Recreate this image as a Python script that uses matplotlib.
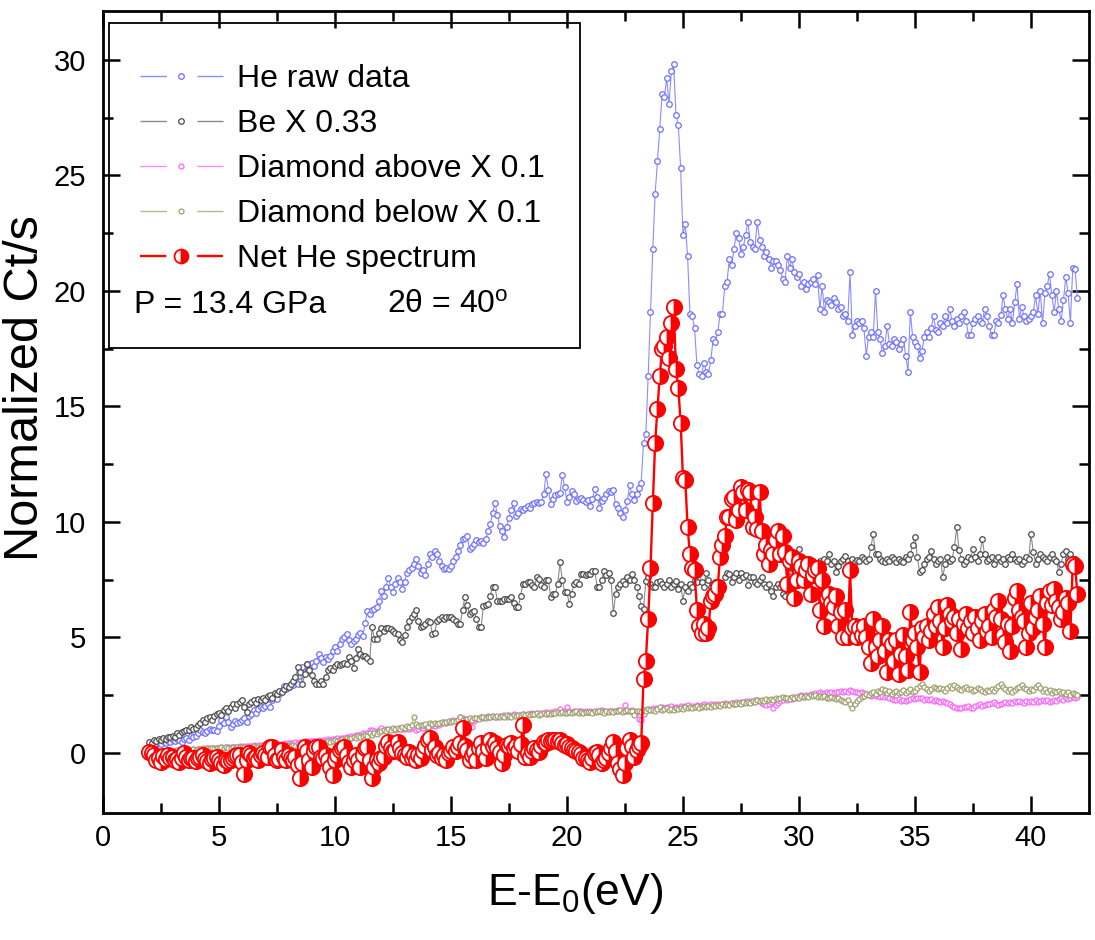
import numpy as np
import matplotlib
matplotlib.use('Agg')
import matplotlib.pyplot as plt
from matplotlib.lines import Line2D
from matplotlib.patches import Rectangle

plt.rcParams['font.family'] = ['Liberation Sans', 'DejaVu Sans']
plt.rcParams['mathtext.fontset'] = 'custom'
plt.rcParams['mathtext.rm'] = 'Liberation Sans'
plt.rcParams['mathtext.it'] = 'Liberation Sans:italic'

# energy grid: 2.0 eV onwards, 0.1 eV per point
E_START = 2.0
E_STEP = 0.1

# ---- He raw data (normalized counts) ----
he_raw = [
    0.30, 0.42, 0.35, 0.40, 0.45, 0.38, 0.50, 0.45, 0.52, 0.48,
    0.56, 0.50, 0.62, 0.55, 0.49, 0.60, 0.65, 0.58, 0.72, 0.70,
    0.75, 0.85, 1.00, 0.92, 0.85, 0.95, 1.05, 1.00, 1.00, 0.95,
    1.15, 1.42, 1.30, 1.56, 1.35, 1.13, 1.25, 1.40, 1.30, 1.35,
    1.42, 1.50, 1.35, 1.60, 1.70, 1.85, 1.75, 1.90, 2.00, 1.95,
    2.05, 2.14, 2.00, 2.30, 2.43, 2.35, 2.55, 2.70, 2.90, 2.75,
    2.85, 3.00, 2.93, 3.10, 3.00, 3.35, 3.72, 3.50, 3.87, 3.70,
    3.90, 3.75, 4.00, 4.30, 4.10, 3.95, 4.15, 4.05, 4.20, 4.40,
    4.58, 4.40, 4.70, 4.94, 5.00, 5.16, 4.90, 4.73, 4.85, 4.94,
    5.10, 5.20, 5.05, 5.62, 6.16, 6.00, 6.20, 6.24, 6.30, 6.60,
    7.00, 6.80, 7.20, 7.57, 7.20, 6.95, 7.30, 7.57, 7.40, 7.10,
    7.40, 7.77, 7.90, 7.99, 8.20, 8.39, 8.10, 7.77, 7.90, 7.70,
    8.20, 8.60, 8.50, 8.76, 8.60, 8.32, 8.10, 7.96, 8.00, 7.96,
    8.10, 8.30, 8.50, 8.75, 9.00, 9.25, 9.30, 9.40, 8.82, 8.90,
    9.05, 9.20, 9.15, 9.18, 9.10, 9.25, 9.60, 9.93, 10.40, 10.83,
    10.30, 9.83, 9.60, 9.35, 9.80, 10.19, 10.50, 10.83, 10.26, 10.40,
    10.55, 10.50, 10.59, 10.70, 10.60, 10.76, 10.80, 10.88, 10.80, 10.85,
    11.20, 12.08, 11.40, 10.76, 11.00, 11.16, 11.20, 11.26, 12.03, 11.50,
    10.88, 11.10, 11.34, 11.20, 10.90, 11.00, 11.05, 10.95, 10.88, 10.95,
    10.69, 11.00, 11.41, 11.10, 10.62, 10.90, 11.05, 11.20, 11.34, 11.30,
    11.38, 10.76, 10.60, 10.40, 10.23, 10.50, 10.90, 11.60, 11.20, 10.94,
    11.20, 11.45, 11.70, 13.40, 13.80, 16.30, 19.10, 21.80, 24.20, 25.60,
    27.00, 28.50, 28.40, 29.20, 28.10, 29.50, 29.80, 27.60, 27.20, 25.30,
    22.40, 22.90, 21.50, 19.00, 18.90, 18.40, 16.80, 16.40, 16.30, 16.90,
    16.50, 16.40, 17.00, 17.90, 17.80, 18.20, 19.00, 19.00, 20.20, 20.40,
    21.40, 21.10, 21.80, 22.50, 22.30, 21.60, 21.90, 22.40, 23.00, 22.10,
    21.90, 21.80, 23.00, 22.20, 21.90, 21.50, 21.70, 21.40, 21.00, 21.30,
    21.30, 21.10, 20.90, 20.50, 20.40, 21.50, 21.00, 21.40, 20.80, 20.60,
    20.75, 20.20, 20.40, 20.10, 20.30, 20.40, 20.50, 20.30, 20.70, 19.20,
    20.20, 19.10, 19.60, 19.50, 19.40, 19.70, 19.50, 19.20, 19.30, 18.90,
    19.00, 18.70, 20.80, 18.10, 18.50, 18.70, 18.60, 18.70, 18.40, 17.20,
    18.00, 18.20, 18.00, 20.00, 18.20, 17.90, 17.30, 17.60, 18.50, 17.70,
    17.60, 17.90, 17.80, 17.50, 17.70, 17.90, 17.20, 16.50, 19.10, 18.00,
    17.80, 17.60, 17.10, 17.40, 18.00, 18.20, 18.00, 18.40, 18.90, 18.30,
    18.20, 18.60, 18.50, 18.90, 18.60, 19.20, 18.70, 18.50, 18.80, 18.60,
    18.90, 19.10, 18.70, 18.10, 18.10, 18.60, 18.80, 18.90, 18.70, 18.60,
    19.20, 18.90, 18.50, 18.10, 18.10, 18.70, 18.60, 18.95, 19.80, 19.20,
    18.80, 19.20, 18.60, 19.50, 20.30, 18.80, 19.30, 18.90, 18.70, 18.80,
    18.90, 19.10, 19.80, 19.00, 20.00, 18.60, 19.90, 20.20, 20.75, 19.80,
    19.10, 20.00, 19.20, 18.70, 19.60, 20.60, 19.90, 18.60, 21.00, 20.95,
    19.70,
]

# ---- Be reference x 0.33 ----
be_scaled = [
    0.49, 0.45, 0.55, 0.50, 0.59, 0.55, 0.65, 0.60, 0.70, 0.68,
    0.75, 0.70, 0.85, 0.80, 0.90, 0.95, 1.00, 0.98, 1.13, 1.05,
    1.10, 1.20, 1.30, 1.42, 1.35, 1.50, 1.56, 1.45, 1.60, 1.70,
    1.75, 1.65, 1.85, 1.93, 1.80, 2.00, 2.10, 1.95, 2.10, 2.20,
    2.31, 2.00, 1.78, 2.10, 2.20, 2.30, 2.15, 2.35, 2.28, 2.40,
    2.28, 2.45, 2.50, 2.40, 2.60, 2.55, 2.70, 2.65, 2.79, 2.90,
    2.85, 3.00, 3.10, 3.30, 3.72, 3.50, 3.00, 3.40, 3.87, 3.60,
    3.36, 3.10, 3.00, 3.00, 3.10, 3.00, 3.30, 3.58, 3.70, 3.60,
    3.75, 3.87, 3.80, 3.87, 3.90, 3.87, 4.15, 4.00, 3.69, 4.10,
    4.51, 4.30, 4.20, 4.20, 4.10, 4.00, 5.44, 4.94, 4.94, 5.20,
    5.40, 5.30, 5.40, 5.40, 5.35, 5.30, 5.20, 5.16, 4.90, 4.80,
    5.10, 5.44, 5.70, 5.87, 6.00, 6.19, 5.70, 5.44, 5.50, 5.60,
    5.70, 5.65, 5.16, 5.20, 5.73, 5.80, 5.90, 5.80, 5.90, 5.90,
    5.90, 5.80, 5.70, 5.60, 5.59, 6.20, 6.74, 6.40, 6.00, 6.10,
    6.16, 5.80, 5.45, 5.44, 6.38, 6.40, 6.45, 6.80, 7.20, 7.17,
    6.60, 6.60, 6.60, 6.65, 6.65, 6.67, 6.74, 6.50, 6.30, 6.30,
    6.80, 7.30, 7.30, 7.40, 7.38, 7.25, 7.20, 7.60, 7.53, 7.25,
    7.20, 7.47, 7.50, 6.74, 6.90, 6.90, 7.30, 8.25, 7.50, 6.97,
    6.96, 6.45, 6.90, 7.30, 7.40, 7.30, 7.75, 7.75, 7.70, 7.75,
    7.75, 7.89, 7.89, 7.20, 7.17, 7.50, 7.89, 7.70, 7.80, 7.50,
    6.05, 6.90, 7.20, 7.30, 7.45, 7.30, 7.60, 7.50, 7.75, 7.47,
    7.20, 6.80, 6.38, 6.24, 7.45, 7.60, 7.30, 7.20, 7.17, 7.40,
    7.45, 7.30, 7.17, 7.30, 7.50, 7.20, 7.30, 7.46, 7.10, 7.30,
    6.60, 7.20, 7.03, 7.30, 7.20, 7.50, 7.40, 7.80, 7.38, 7.20,
    7.80, 7.50, 7.17, 7.30, 7.40, 7.20, 7.30, 7.10, 7.60, 7.80,
    7.75, 7.40, 7.60, 7.80, 7.50, 7.80, 7.60, 7.70, 7.25, 7.60,
    7.60, 7.40, 7.30, 7.50, 7.60, 7.30, 7.17, 7.30, 7.00, 6.80,
    7.20, 7.30, 7.17, 6.90, 6.80, 7.30, 7.60, 8.00, 8.40, 8.30,
    8.82, 8.40, 8.20, 8.30, 8.39, 8.10, 8.30, 8.00, 7.90, 8.30,
    8.20, 8.40, 8.30, 8.60, 8.20, 8.30, 7.82, 8.10, 8.30, 8.40,
    8.54, 8.30, 8.20, 8.40, 8.25, 8.35, 8.30, 8.50, 8.40, 8.30,
    8.40, 8.90, 9.47, 8.60, 8.61, 8.40, 8.30, 8.25, 8.40, 8.30,
    8.50, 8.40, 8.25, 8.40, 8.30, 8.25, 8.50, 8.40, 8.60, 9.00,
    9.33, 8.50, 7.82, 7.90, 8.20, 8.40, 8.50, 8.75, 8.40, 8.20,
    8.30, 8.40, 7.60, 8.20, 8.50, 8.30, 8.40, 8.90, 9.76, 8.80,
    8.40, 8.20, 8.30, 8.50, 8.40, 8.82, 8.50, 8.30, 8.60, 9.26,
    8.60, 8.30, 8.40, 8.50, 8.20, 8.40, 8.50, 8.30, 8.40, 8.20,
    8.50, 8.40, 8.61, 8.40, 8.30, 8.40, 8.20, 8.30, 8.50, 8.40,
    9.47, 8.70, 8.20, 8.40, 8.60, 8.50, 8.40, 8.30, 8.50, 8.60,
    8.40, 8.30, 7.82, 8.20, 8.60, 8.75, 8.40, 8.60, 8.32, 8.40,
    8.30,
]

# ---- diamond, above the edge, x 0.1 ----
diamond_above = [
    0.00, 0.03, 0.02, 0.05, 0.04, 0.06, 0.05, 0.08, 0.06, 0.09,
    0.08, 0.10, 0.09, 0.12, 0.11, 0.13, 0.12, 0.15, 0.14, 0.16,
    0.15, 0.17, 0.16, 0.19, 0.18, 0.20, 0.19, 0.22, 0.20, 0.23,
    0.22, 0.24, 0.23, 0.25, 0.24, 0.27, 0.26, 0.28, 0.27, 0.30,
    0.28, 0.30, 0.29, 0.32, 0.30, 0.33, 0.31, 0.34, 0.33, 0.36,
    0.34, 0.37, 0.35, 0.38, 0.37, 0.40, 0.38, 0.41, 0.40, 0.43,
    0.42, 0.45, 0.43, 0.46, 0.45, 0.48, 0.46, 0.50, 0.48, 0.52,
    0.50, 0.53, 0.52, 0.56, 0.54, 0.58, 0.56, 0.60, 0.58, 0.62,
    0.60, 0.64, 0.62, 0.66, 0.64, 0.70, 0.68, 0.74, 0.72, 0.78,
    0.76, 0.80, 0.85, 0.82, 0.88, 0.99, 1.00, 0.95, 0.92, 0.98,
    1.07, 1.00, 1.04, 0.98, 1.02, 1.06, 1.00, 1.04, 1.08, 1.02,
    1.06, 1.10, 1.04, 1.08, 1.12, 1.00, 1.06, 1.14, 1.10, 1.18,
    1.07, 1.15, 1.20, 1.18, 1.25, 1.22, 1.28, 1.35, 1.30, 1.34,
    1.38, 1.42, 1.40, 1.45, 1.57, 1.50, 1.46, 1.28, 1.40, 1.13,
    1.40, 1.48, 1.52, 1.57, 1.50, 1.55, 1.60, 1.56, 1.62, 1.58,
    1.55, 1.62, 1.60, 1.66, 1.58, 1.64, 1.60, 1.68, 1.62, 1.66,
    1.64, 1.70, 1.66, 1.71, 1.68, 1.74, 1.70, 1.72, 1.68, 1.75,
    1.72, 1.76, 1.70, 1.78, 1.74, 1.80, 1.76, 1.92, 1.78, 1.82,
    1.99, 1.80, 1.76, 1.82, 1.78, 1.84, 1.80, 1.76, 1.82, 1.78,
    1.80, 1.76, 1.78, 1.84, 1.80, 1.86, 1.82, 1.78, 1.84, 1.80,
    1.84, 1.80, 1.86, 1.82, 1.88, 2.07, 1.84, 1.80, 1.86, 1.82,
    1.78, 1.49, 1.42, 1.70, 1.86, 1.92, 1.88, 1.94, 1.90, 1.96,
    1.92, 2.00, 1.94, 1.98, 1.92, 2.02, 1.96, 2.00, 1.94, 2.04,
    1.98, 2.02, 2.06, 2.00, 2.04, 1.98, 2.08, 2.02, 2.06, 2.10,
    2.04, 2.08, 2.12, 2.06, 2.10, 2.14, 2.08, 2.12, 2.16, 2.10,
    2.14, 2.18, 2.12, 2.20, 2.16, 2.22, 2.18, 2.24, 2.20, 2.26,
    2.22, 2.28, 2.30, 2.24, 2.18, 2.10, 2.07, 2.12, 2.20, 1.93,
    2.07, 2.15, 2.24, 2.30, 2.36, 2.30, 2.38, 2.34, 2.42, 2.38,
    2.45, 2.50, 2.44, 2.52, 2.48, 2.55, 2.50, 2.58, 2.54, 2.65,
    2.60, 2.56, 2.62, 2.58, 2.65, 2.60, 2.66, 2.62, 2.68, 2.64,
    2.70, 2.66, 2.72, 2.68, 2.62, 2.66, 2.60, 2.64, 2.58, 2.55,
    2.52, 2.48, 2.50, 2.46, 2.50, 2.44, 2.48, 2.42, 2.46, 2.40,
    2.35, 2.30, 2.29, 2.32, 2.26, 2.30, 2.24, 2.28, 2.32, 2.36,
    2.32, 2.36, 2.40, 2.36, 2.30, 2.34, 2.28, 2.32, 2.26, 2.30,
    2.24, 2.20, 2.26, 2.22, 2.18, 2.12, 2.05, 1.98, 1.94, 1.93,
    1.95, 1.98, 2.00, 2.05, 1.93, 1.97, 2.02, 2.06, 2.10, 2.05,
    2.08, 2.12, 2.10, 2.16, 2.20, 2.14, 2.07, 2.12, 2.18, 2.20,
    2.15, 2.22, 2.18, 2.24, 2.20, 2.26, 2.22, 2.18, 2.24, 2.20,
    2.26, 2.22, 2.28, 2.20, 2.25, 2.30, 2.24, 2.28, 2.20, 2.26,
    2.30, 2.26, 2.32, 2.36, 2.30, 2.38, 2.34, 2.40, 2.43, 2.38,
    2.42,
]

# ---- diamond, below the edge, x 0.1 ----
diamond_below = [
    0.00, 0.02, 0.05, 0.03, 0.05, 0.08, 0.06, 0.05, 0.08, 0.10,
    0.08, 0.10, 0.12, 0.10, 0.12, 0.15, 0.13, 0.12, 0.15, 0.17,
    0.15, 0.18, 0.16, 0.20, 0.18, 0.20, 0.22, 0.20, 0.18, 0.22,
    0.20, 0.24, 0.22, 0.25, 0.22, 0.20, 0.25, 0.23, 0.26, 0.25,
    0.24, 0.27, 0.25, 0.28, 0.26, 0.30, 0.28, 0.27, 0.30, 0.32,
    0.30, 0.28, 0.32, 0.30, 0.33, 0.35, 0.32, 0.28, 0.30, 0.35,
    0.33, 0.30, 0.35, 0.32, 0.28, 0.35, 0.38, 0.40, 0.36, 0.42,
    0.40, 0.38, 0.42, 0.45, 0.42, 0.48, 0.45, 0.50, 0.47, 0.52,
    0.56, 0.52, 0.58, 0.60, 0.56, 0.64, 0.60, 0.66, 0.70, 0.65,
    0.72, 0.70, 0.75, 0.78, 0.74, 0.85, 0.80, 0.88, 0.84, 0.92,
    0.95, 1.00, 0.96, 1.02, 1.00, 1.08, 1.04, 1.10, 1.06, 1.12,
    1.10, 1.15, 1.12, 1.20, 1.57, 1.25, 1.18, 1.22, 1.20, 1.26,
    1.14, 1.28, 1.25, 1.30, 1.27, 1.32, 1.35, 1.28, 1.33, 1.38,
    1.35, 1.40, 1.38, 1.42, 1.57, 1.45, 1.40, 1.48, 1.50, 1.45,
    1.50, 1.52, 1.48, 1.57, 1.55, 1.50, 1.58, 1.54, 1.60, 1.56,
    1.60, 1.55, 1.62, 1.58, 1.65, 1.60, 1.57, 1.64, 1.62, 1.66,
    1.63, 1.68, 1.65, 1.71, 1.66, 1.70, 1.68, 1.72, 1.66, 1.70,
    1.72, 1.68, 1.74, 1.70, 1.75, 1.72, 1.78, 1.73, 1.76, 1.72,
    1.75, 1.78, 1.72, 1.76, 1.80, 1.74, 1.78, 1.75, 1.79, 1.76,
    1.78, 1.74, 1.80, 1.76, 1.82, 1.78, 1.75, 1.80, 1.77, 1.82,
    1.78, 1.84, 1.80, 1.85, 1.79, 1.82, 1.86, 1.80, 1.83, 1.64,
    1.80, 1.84, 1.78, 1.86, 1.82, 1.92, 1.85, 1.88, 1.84, 1.90,
    2.00, 1.86, 1.90, 1.93, 1.88, 1.92, 1.86, 1.94, 1.90, 1.96,
    1.92, 1.98, 1.94, 2.00, 1.95, 1.98, 2.02, 1.96, 2.00, 2.04,
    1.98, 2.04, 2.00, 2.06, 2.02, 2.08, 2.04, 2.10, 2.06, 2.12,
    2.08, 2.15, 2.10, 2.14, 2.18, 2.12, 2.20, 2.16, 2.22, 2.18,
    2.24, 2.20, 2.29, 2.25, 2.30, 2.26, 2.32, 2.28, 2.34, 2.30,
    2.36, 2.32, 2.38, 2.43, 2.36, 2.40, 2.34, 2.42, 2.38, 2.44,
    2.40, 2.46, 2.42, 2.48, 2.44, 2.50, 2.46, 2.50, 2.44, 2.48,
    2.42, 2.46, 2.40, 2.36, 2.42, 2.38, 2.32, 2.36, 2.30, 2.25,
    2.20, 2.30, 2.12, 1.93, 2.10, 2.25, 2.35, 2.42, 2.48, 2.55,
    2.50, 2.58, 2.62, 2.55, 2.70, 2.65, 2.79, 2.72, 2.60, 2.68,
    2.55, 2.62, 2.70, 2.58, 2.65, 2.72, 2.60, 2.68, 2.75, 2.65,
    2.70, 2.80, 2.88, 3.00, 2.85, 2.75, 2.70, 2.78, 2.85, 2.80,
    2.75, 2.82, 2.78, 2.70, 2.80, 2.88, 2.83, 2.93, 2.85, 2.78,
    2.72, 2.80, 2.85, 2.79, 2.75, 2.68, 2.72, 2.80, 2.75, 2.70,
    2.65, 2.72, 2.68, 2.75, 2.70, 2.80, 2.90, 3.00, 2.85, 2.78,
    2.70, 2.75, 2.65, 2.72, 2.80, 2.85, 2.93, 2.80, 2.75, 2.70,
    2.78, 2.72, 2.85, 2.93, 2.80, 2.70, 2.75, 2.65, 2.72, 2.60,
    2.68, 2.62, 2.70, 2.58, 2.65, 2.55, 2.62, 2.50, 2.58, 2.55,
    2.50,
]

# ---- net He spectrum ----
net_he = [
    0.05, 0.00, -0.10, -0.30, -0.20, -0.37, -0.15, -0.25, -0.08, -0.20,
    -0.16, -0.30, -0.25, -0.37, -0.20, 0.00, -0.16, -0.30, -0.20, -0.23,
    -0.35, -0.20, -0.16, -0.09, -0.25, -0.35, -0.44, -0.25, -0.20, -0.16,
    -0.30, -0.45, -0.51, -0.30, -0.35, -0.30, -0.20, -0.15, -0.08, -0.09,
    -0.40, -0.92, -0.30, 0.00, -0.08, -0.20, -0.16, -0.30, -0.10, 0.00,
    -0.08, -0.16, 0.27, 0.25, -0.10, -0.30, -0.25, 0.13, -0.16, -0.30,
    -0.10, -0.20, -0.30, -0.16, -0.50, -1.09, -0.44, 0.27, 0.10, -0.30,
    -0.59, 0.10, 0.27, 0.25, -0.16, -0.20, -0.10, -0.30, -0.60, -0.95,
    -0.30, -0.08, 0.13, 0.20, 0.27, -0.10, -0.37, -0.59, -0.30, -0.08,
    -0.30, -0.59, -0.10, 0.20, 0.27, -0.30, -1.09, -0.60, -0.30, -0.44,
    -0.20, -0.16, 0.30, 0.49, 0.20, 0.10, 0.13, 0.49, 0.20, 0.00,
    -0.10, -0.16, 0.06, -0.20, -0.10, -0.30, -0.08, -0.23, 0.10, 0.30,
    0.56, 0.64, 0.13, 0.27, -0.10, 0.00, -0.20, -0.10, -0.30, 0.00,
    0.10, 0.27, 0.10, 0.27, 0.42, 1.07, 0.30, 0.13, -0.30, -0.10,
    0.06, -0.30, 0.20, 0.42, 0.10, -0.23, 0.20, 0.56, 0.30, 0.42,
    0.20, 0.06, -0.45, -0.10, 0.35, 0.30, 0.42, 0.20, 0.30, 0.10,
    0.40, 1.21, -0.16, 0.00, -0.16, 0.10, 0.20, 0.15, 0.06, 0.30,
    0.49, 0.45, 0.56, 0.50, 0.56, 0.56, 0.50, 0.56, 0.45, 0.35,
    0.40, 0.27, 0.20, 0.13, 0.10, 0.06, -0.05, -0.23, -0.20, -0.30,
    -0.37, -0.20, 0.00, 0.06, -0.10, -0.45, -0.30, -0.23, 0.00, 0.20,
    0.49, 0.10, -0.45, -0.70, -0.95, -0.45, 0.20, 0.56, 0.30, -0.16,
    0.13, 0.30, 0.42, 3.20, 4.00, 5.80, 8.00, 10.80, 13.40, 14.90,
    16.30, 17.50, 17.60, 18.00, 17.10, 18.60, 19.30, 16.60, 15.80, 14.30,
    11.90, 11.80, 9.80, 8.60, 8.00, 7.90, 6.20, 5.50, 5.20, 5.60,
    5.20, 5.40, 6.60, 6.80, 6.90, 7.20, 8.50, 9.00, 9.40, 10.20,
    10.20, 11.00, 11.10, 10.10, 10.50, 11.50, 11.30, 10.50, 11.40, 11.30,
    9.80, 10.20, 9.70, 11.30, 9.60, 8.60, 9.00, 8.20, 8.80, 8.60,
    9.20, 9.60, 8.60, 9.40, 8.70, 7.30, 8.30, 8.50, 6.70, 7.50,
    8.30, 8.10, 7.50, 7.90, 8.20, 6.90, 7.70, 7.90, 8.00, 6.20,
    7.50, 5.50, 6.70, 6.90, 6.50, 6.30, 6.80, 5.50, 6.10, 5.00,
    6.20, 5.00, 7.90, 5.40, 5.50, 5.00, 5.40, 5.10, 5.50, 5.00,
    4.60, 3.90, 5.80, 4.60, 4.20, 4.90, 5.50, 4.40, 3.50, 4.90,
    4.70, 4.00, 4.90, 3.40, 4.30, 5.10, 4.20, 3.60, 6.10, 4.90,
    5.20, 4.60, 3.50, 5.40, 5.00, 5.50, 4.90, 5.30, 6.00, 5.50,
    6.30, 5.70, 4.60, 5.40, 6.40, 6.00, 5.70, 5.90, 5.20, 5.80,
    4.50, 5.60, 6.00, 5.40, 5.70, 5.20, 5.90, 5.40, 4.90, 5.70,
    6.00, 5.30, 5.50, 5.00, 6.20, 5.90, 6.60, 5.80, 5.10, 4.80,
    5.60, 4.40, 5.50, 6.70, 7.00, 6.20, 5.90, 5.70, 4.60, 5.20,
    6.50, 5.40, 5.90, 6.20, 6.80, 5.60, 4.60, 6.50, 7.00, 6.40,
    7.10, 6.60, 6.30, 5.80, 6.10, 6.70, 6.50, 5.30, 8.20, 8.10,
    6.90,
]

labels = ['He raw data', 'Be X 0.33', 'Diamond above X 0.1',
          'Diamond below X 0.1', 'Net He spectrum']


def energy(values):
    return np.round(E_START + E_STEP * np.arange(len(values)), 2)


# style per series: line colour, marker edge colour, line width, marker size
styles = [
    dict(color='#8c8cff', mec='#6e6eff', lw=0.8, ms=4.0, mew=0.9, mfc='white'),
    dict(color='#8a8a8a', mec='#4a4a4a', lw=0.8, ms=4.0, mew=0.9, mfc='white'),
    dict(color='#ff88ff', mec='#ff66ff', lw=0.8, ms=3.6, mew=0.9, mfc='white'),
    dict(color='#b8b888', mec='#a0a070', lw=0.8, ms=3.6, mew=0.9, mfc='white'),
]

fig = plt.figure(figsize=(10.95, 9.40), dpi=100)
ax = fig.add_axes([0.094, 0.135, 0.9005, 0.853])

for series, st in zip([he_raw, be_scaled, diamond_above, diamond_below], styles):
    ax.plot(energy(series), series, marker='o', **st, zorder=2)

ax.plot(energy(net_he), net_he, color='red', lw=1.7, marker='o', ms=11,
        mfc='red', mfcalt='white', fillstyle='right', mec='red', mew=1.3,
        zorder=3)

ax.set_xlim(0, 42.5)
ax.set_ylim(-2.6, 32.1)
ax.set_xticks(np.arange(0, 41, 5))
ax.set_xticks(np.arange(2.5, 42.5, 5), minor=True)
ax.set_yticks(np.arange(0, 31, 5))
ax.set_yticks(np.arange(2.5, 30, 5), minor=True)
ax.tick_params(which='both', direction='in', top=True, right=True, width=1.8)
ax.tick_params(which='major', length=12, labelsize=21)
ax.tick_params(axis='x', which='major', pad=8)
ax.tick_params(axis='y', which='major', pad=12)
ax.tick_params(which='minor', length=7)
for sp in ax.spines.values():
    sp.set_linewidth(2)

ax.set_xlabel(r'E-E$_{\rm 0}$(eV)', fontsize=32)
ax.xaxis.set_label_coords(0.479, -0.072)
ax.set_ylabel('Normalized Ct/s', fontsize=35)
ax.yaxis.set_label_coords(-0.056, 0.53)

# legend, Origin style: dash - symbol - dash
dash = (0, (19, 22))
proxies = []
for st in styles:
    proxies.append(Line2D([], [], color=st['color'], lw=1, ls=dash, marker='o',
                          ms=st['ms'], mfc='white', mec=st['mec'], mew=0.9))
proxies.append(Line2D([], [], color='red', lw=1.7, ls=(0, (19 / 1.7, 22 / 1.7)),
                      marker='o', ms=10, mfc='red', mfcalt='white',
                      fillstyle='right', mec='red', mew=1.3))
ax.legend(proxies, labels, loc='upper left', bbox_to_anchor=(0.0375, 0.934),
          frameon=False, fontsize=23, handlelength=2.6, handletextpad=0.45,
          labelspacing=0.47, borderpad=0, borderaxespad=0, numpoints=1)

ax.add_patch(Rectangle((0.006, 0.580), 0.478, 0.405, transform=ax.transAxes,
                       fill=False, lw=1.3, ec='black', zorder=5))
ax.text(0.032, 0.634, 'P = 13.4 GPa', transform=ax.transAxes, fontsize=23,
        va='center', ha='left')
ax.text(0.288, 0.634, r'2θ = 40$^{\rm o}$', transform=ax.transAxes,
        fontsize=23, va='center', ha='left')

fig.savefig('out.png', dpi=100, facecolor='white')
